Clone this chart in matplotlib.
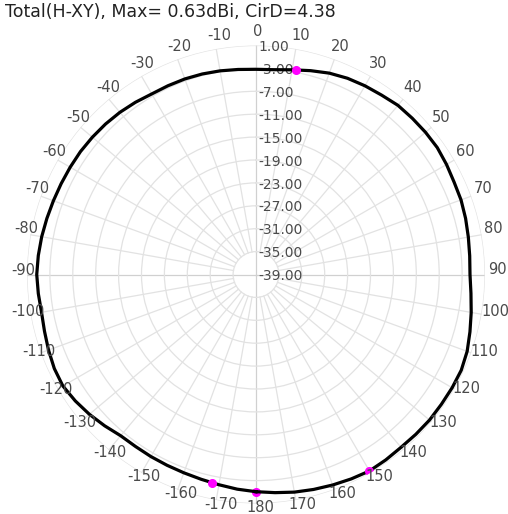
import numpy as np
import matplotlib
matplotlib.use('Agg')
import matplotlib.pyplot as plt

plt.rcParams['font.family'] = ['DejaVu Sans']

# pattern: angle (deg, 0 = top, clockwise) and gain (dBi)
angles = [-180, -175, -170, -165, -160, -155, -150, -145, -140, -135, -130, -125,
          -120, -115, -110, -105, -100, -95, -90, -85, -80, -75, -70, -65, -60,
          -55, -50, -45, -40, -35, -30, -25, -20, -15, -10, -5, 0, 5, 10, 15, 20,
          25, 30, 35, 40, 45, 50, 55, 60, 65, 70, 75, 80, 85, 90, 95, 100, 105,
          110, 115, 120, 125, 130, 135, 140, 145, 150, 155, 160, 165, 170, 175, 180]
gain = [-1.06, -1.36, -1.71, -1.97, -2.14, -2.23, -2.28, -2.32, -2.23, -1.62, -1.01, -0.48,
        -0.05, -0.13, -0.43, -0.75, -0.96, -0.83, -0.70, -0.83, -0.99, -1.18, -1.34, -1.45, -1.52,
        -1.57, -1.69, -1.83, -2.02, -2.28, -2.58, -2.62, -2.65, -2.74, -2.88, -3.05, -3.16, -3.09, -2.69, -2.14, -1.57,
        -1.18, -0.94, -0.75, -0.43, -0.40, -0.35, -0.35, -0.57, -0.82, -0.89, -1.10, -1.34, -1.53, -1.62, -1.31, -0.83, -0.31,
        0.25, 0.56, 0.56, 0.53, 0.56, 0.48, 0.41, 0.53, 0.63, 0.39, 0.13, -0.13, -0.40, -0.75, -1.06]

mark_angles = [11, 150, -168]
mark_gain = [-2.62, 0.63, -1.85]
mark_ring_angle = [180]
mark_ring_gain = [-1.06]

rings = [1, -3, -7, -11, -15, -19, -23, -27, -31, -35, -39]
theta_ticks = list(range(0, 360, 10))
theta_labels = [str(a) if a <= 180 else str(a - 360) for a in theta_ticks]

title = 'Total(H-XY), Max= 0.63dBi, CirD=4.38'

W, H = 508, 514
cx, cy, R = 256, 274.5, 229

fig = plt.figure(figsize=(W / 100, H / 100), dpi=100)
ax = fig.add_axes([(cx - R) / W, (H - cy - R) / H, 2 * R / W, 2 * R / H], projection='polar')
ax.set_theta_zero_location('N')
ax.set_theta_direction(-1)
ax.set_ylim(-39, 1)
ax.spines['polar'].set_visible(False)

# rings
ax.set_yticks(rings[:-1])
ax.set_yticklabels([])
ax.yaxis.grid(True, color='#e2e2e2', lw=0.9)
ax.xaxis.grid(False)
ax.set_xticks([])

# spokes stop at the inner ring
for a in theta_ticks:
    c = '#d0d0d0' if a % 90 == 0 else '#e2e2e2'
    ax.plot([np.radians(a)] * 2, [-35, 1], color=c, lw=0.9, zorder=1)
for a in (0, 90, 180, 270):
    ax.plot([np.radians(a)] * 2, [-39, -35], color='#d0d0d0', lw=0.9, zorder=1)

# angle labels round the outside
lc, lr = 270, 238
for a, s in zip(theta_ticks, theta_labels):
    t = np.radians(a)
    x = cx + lr * np.sin(t) + 1.6 * len(s)
    y = lc - lr * np.cos(t)
    fig.text(x / W, 1 - y / H, s, ha='center', va='center', fontsize=10.5, color='#4a4a4a')

for r in rings:
    ax.annotate('%.2f' % r, xy=(0, r), xytext=(2, -1.2), textcoords='offset points',
                ha='left', va='center', fontsize=10, color='#4a4a4a', zorder=2)

th = np.radians(angles)
ax.plot(th, gain, color='black', lw=2.3, zorder=4)
ax.plot(np.radians(mark_ring_angle), mark_ring_gain, 'o', color='magenta', ms=5.5, zorder=3)
ax.plot(np.radians(mark_angles), mark_gain, 'o', color='magenta', ms=5.5, zorder=5)

fig.text(5 / W, 1 - 12 / H, title, ha='left', va='center', fontsize=12.5, color='#222222')

fig.savefig('out.png', dpi=100)
